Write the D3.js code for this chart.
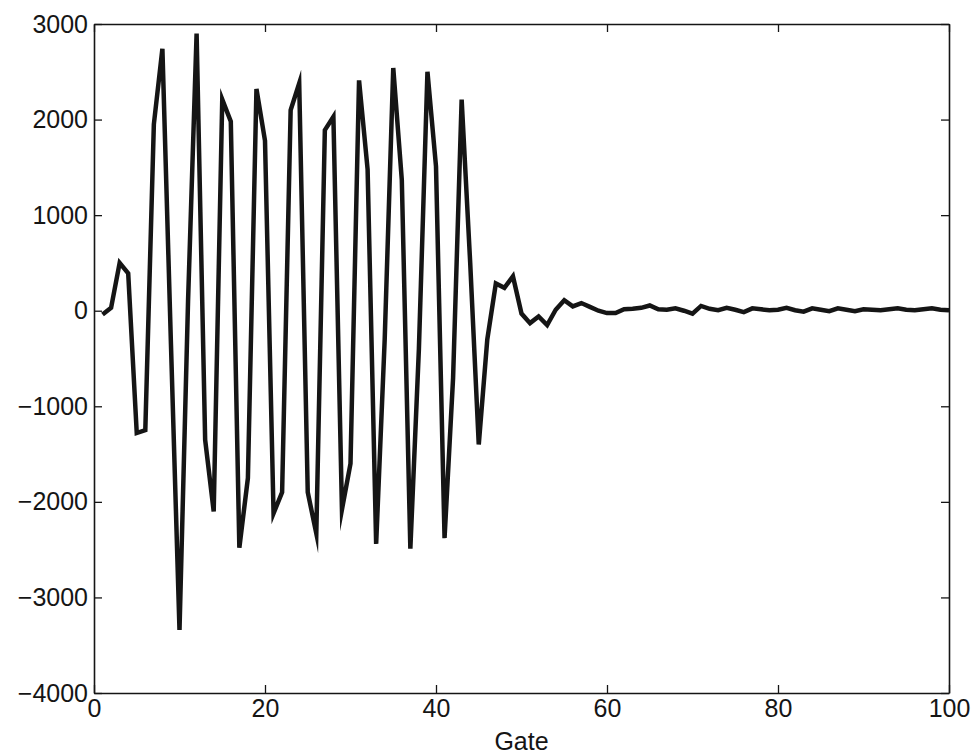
<!DOCTYPE html>
<html>
<head>
<meta charset="utf-8">
<script src="https://cdn.jsdelivr.net/npm/d3@7"></script>
<style>
  html, body { margin: 0; padding: 0; background: #fff; }
  #vis { width: 975px; height: 756px; }
</style>
</head>
<body>
<div id="vis"></div>
<script>
// gate numbers along the x axis
const gates = [
   1,  2,  3,  4,  5,  6,  7,  8,  9, 10, 11, 12, 13, 14, 15, 16, 17, 18, 19, 20,
  21, 22, 23, 24, 25, 26, 27, 28, 29, 30, 31, 32, 33, 34, 35, 36, 37, 38, 39, 40,
  41, 42, 43, 44, 45, 46, 47, 48, 49, 50, 51, 52, 53, 54, 55, 56, 57, 58, 59, 60,
  61, 62, 63, 64, 65, 66, 67, 68, 69, 70, 71, 72, 73, 74, 75, 76, 77, 78, 79, 80,
  81, 82, 83, 84, 85, 86, 87, 88, 89, 90, 91, 92, 93, 94, 95, 96, 97, 98, 99, 100
];

// signal value read at each gate
const signal = [
    -40,    30,   500,   390, -1280, -1250,  1950,  2740,  -350, -3340,
    100,  2900, -1350, -2100,  2210,  1980, -2480, -1750,  2320,  1780,
  -2120, -1900,  2100,  2380, -1900, -2330,  1890,  2030, -2080, -1600,
   2410,  1480, -2440,  -300,  2540,  1370, -2490,  -400,  2500,  1510,
  -2380,  -700,  2210,   500, -1400,  -300,   285,   240,   360,   -30,
   -130,   -60,  -150,    10,   110,    45,    80,    40,     0,   -25,
    -25,    15,    20,    30,    55,    15,    10,    25,     0,   -30,
     50,    20,     5,    30,    10,   -15,    25,    15,     5,    10,
     30,     5,   -10,    25,    10,    -5,    25,    10,    -5,    15,
     10,     5,    15,    25,    10,     5,    15,    25,    10,     5
];

const xTicks = [0, 20, 40, 60, 80, 100];
const yTicks = [-4000, -3000, -2000, -1000, 0, 1000, 2000, 3000];
const xLabel = "Gate";

var width = 975, height = 756;
var margin = {top: 24, right: 26, bottom: 63, left: 94};
var fontFam = "'Liberation Sans', Arial, Helvetica, sans-serif";

var svg = d3.select("#vis")
  .append("svg")
  .attr("width", width)
  .attr("height", height);

var x = d3.scaleLinear()
  .domain([0, 100])
  .range([margin.left, width - margin.right]);

var y = d3.scaleLinear()
  .domain([-4000, 3000])
  .range([height - margin.bottom, margin.top]);

var ink = "#151515";
var plain = d3.format("d");

// the data line
var line = d3.line()
  .x((d, i) => x(gates[i]))
  .y(d => y(d))
  .curve(d3.curveLinear);

svg.append("path")
  .datum(signal)
  .attr("d", line)
  .attr("fill", "none")
  .attr("stroke", ink)
  .attr("stroke-width", 4.5)
  .attr("stroke-linejoin", "miter")
  .attr("stroke-miterlimit", 10);

// axes, matlab style: ticks point inward on all four sides
var tickLen = 8;

var gBottom = svg.append("g")
  .attr("transform", "translate(0," + y(-4000) + ")")
  .call(d3.axisBottom(x).tickValues(xTicks).tickFormat(plain)
    .tickSizeInner(-tickLen).tickSizeOuter(0).tickPadding(6));

var gTop = svg.append("g")
  .attr("transform", "translate(0," + y(3000) + ")")
  .call(d3.axisTop(x).tickValues(xTicks).tickSizeInner(-tickLen).tickSizeOuter(0).tickFormat(""));

var gLeft = svg.append("g")
  .attr("transform", "translate(" + x(0) + ",0)")
  .call(d3.axisLeft(y).tickValues(yTicks).tickFormat(plain)
    .tickSizeInner(-tickLen).tickSizeOuter(0).tickPadding(6));

var gRight = svg.append("g")
  .attr("transform", "translate(" + x(100) + ",0)")
  .call(d3.axisRight(y).tickValues(yTicks).tickSizeInner(-tickLen).tickSizeOuter(0).tickFormat(""));

[gBottom, gTop, gLeft, gRight].forEach(g => {
  g.select(".domain").attr("stroke", ink).attr("stroke-width", 1.6);
  g.selectAll(".tick line").attr("stroke", ink).attr("stroke-width", 1.3);
  g.selectAll("text")
    .attr("fill", ink)
    .style("font-family", fontFam)
    .style("font-size", "25px");
});

// x axis title
svg.append("text")
  .attr("x", (x(0) + x(100)) / 2)
  .attr("y", height - 6)
  .attr("text-anchor", "middle")
  .attr("fill", ink)
  .style("font-family", fontFam)
  .style("font-size", "25px")
  .text(xLabel);
</script>
</body>
</html>
